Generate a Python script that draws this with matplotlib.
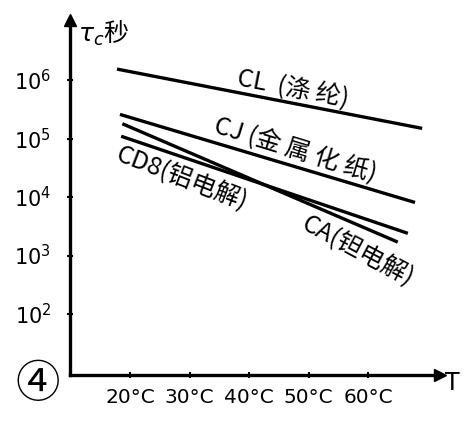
import matplotlib.pyplot as plt
from matplotlib.ticker import FixedLocator, NullLocator

plt.rcParams['font.family'] = ['Noto Sans CJK SC', 'DejaVu Sans']

# curve end points (temperature in C, time constant in s)
names = ['CL', 'CJ', 'CA', 'CD8']
temp_start = [17.8, 18.3, 18.7, 18.5]
temp_end = [69.1, 67.9, 65.0, 66.7]
tau_start = [1.55e6, 2.6e5, 1.8e5, 1.1e5]
tau_end = [1.5e5, 8.1e3, 1.7e3, 2.4e3]

x_ticks = [20, 30, 40, 50, 60]
x_labels = ['20°C', '30°C', '40°C', '50°C', '60°C']
y_ticks = [1e2, 1e3, 1e4, 1e5, 1e6]
y_labels = ['$10^2$', '$10^3$', '$10^4$', '$10^5$', '$10^6$']

W, H = 477, 426
fig = plt.figure(figsize=(W / 100, H / 100), dpi=100)
ax = fig.add_axes([70 / W, 1 - 375 / H, 370 / W, 355 / H])

for i in range(len(names)):
    ax.plot([temp_start[i], temp_end[i]], [tau_start[i], tau_end[i]],
            color='black', lw=2.4, solid_capstyle='butt')

ax.set_yscale('log')
ax.set_xlim(9.9, 72.1)
ax.set_ylim(10 ** 0.957, 10 ** 7.03)

ax.xaxis.set_major_locator(FixedLocator(x_ticks))
ax.set_xticklabels(x_labels, fontsize=14.5, family='DejaVu Sans')
ax.yaxis.set_major_locator(FixedLocator(y_ticks))
ax.yaxis.set_minor_locator(NullLocator())
ax.set_yticklabels(y_labels, fontsize=15)
ax.tick_params(axis='both', direction='inout', length=5, width=1.5, pad=7)
ax.tick_params(axis='y', pad=11)

for s in ['top', 'right']:
    ax.spines[s].set_visible(False)
for s in ['left', 'bottom']:
    ax.spines[s].set_linewidth(2.4)

# axis arrows
ax.plot(1, 0, '>', color='black', ms=8, transform=ax.transAxes, clip_on=False)
ax.plot(0, 1, '^', color='black', ms=8, transform=ax.transAxes, clip_on=False)

# curve labels
lab_kw = dict(ha='center', va='center', rotation_mode='anchor', fontsize=18)
ax.text(47.3, 7.0e5, 'CL  (涤 纶)', rotation=-11, **lab_kw)
ax.text(47.7, 6.3e4, 'CJ (金 属 化 纸)', rotation=-17, **lab_kw)
ax.text(28.6, 2.1e4, 'CD8(铝电解)', rotation=-21, **lab_kw)
ax.text(58.3, 1.2e3, 'CA(钽电解)', rotation=-28, **lab_kw)

fig.text(78 / W, 1 - 33 / H, r'$\tau_c$秒', fontsize=18, ha='left', va='center')
fig.text(452 / W, 1 - 383 / H, 'T', fontsize=17, ha='center', va='center',
         family='DejaVu Sans')
fig.text(38 / W, 1 - 384 / H, '④', fontsize=32, ha='center', va='center')

fig.savefig('out.png', dpi=100)
